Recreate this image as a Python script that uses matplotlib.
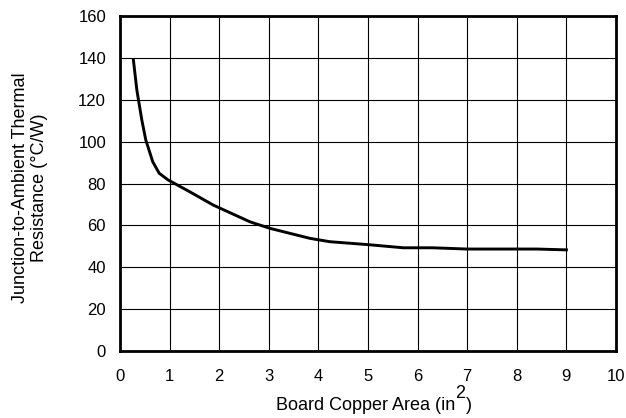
import matplotlib
matplotlib.use("Agg")
import matplotlib.pyplot as plt

plt.rcParams['font.family'] = ['Liberation Sans', 'DejaVu Sans']

area = [0.27, 0.34, 0.44, 0.52, 0.66, 0.79, 0.97, 1.41, 1.88, 2.62, 3.02, 3.83, 4.23, 5.0, 5.71, 6.3, 6.99, 8.4, 9.0]
resistance = [139, 124.6, 110.3, 100.8, 90.4, 84.9, 81.7, 76, 69.7, 61.7, 58.6, 53.8, 52.2, 50.8, 49.3, 49.3, 48.7, 48.7, 48.3]
xticks = list(range(0, 11))
yticks = list(range(0, 161, 20))

W, H = 626, 418
fig = plt.figure(figsize=(6.26, 4.18), dpi=100)
ax = fig.add_axes([120 / W, 67 / H, 496 / W, 335 / H])
ax.plot(area, resistance, color='black', linewidth=2.1, solid_joinstyle='round')
ax.set_xlim(0, 10)
ax.set_ylim(0, 160)
ax.set_xticks(xticks)
ax.set_yticks(yticks)
ax.grid(True, color='black', linewidth=0.8)
ax.tick_params(length=0, labelsize=12, colors='black')
ax.tick_params(axis='x', pad=13)
ax.tick_params(axis='y', pad=10)
for s in ax.spines.values():
    s.set_linewidth(2)

# y label
fig.text(30 / W, (H - 188) / H, 'Junction-to-Ambient Thermal\nResistance (°C/W)',
         rotation=90, ha='center', va='center', fontsize=13, linespacing=1.2,
         multialignment='center')

# x label with raised superscript
fs = 13
main = fig.text(0, 0, 'Board Copper Area (in', fontsize=fs, va='baseline', ha='left')
sup = fig.text(0, 0, '2', fontsize=13, va='baseline', ha='left')
close = fig.text(0, 0, ')', fontsize=fs, va='baseline', ha='left')
fig.canvas.draw()
r = fig.canvas.get_renderer()
w1 = main.get_window_extent(r).width
w2 = sup.get_window_extent(r).width
w3 = close.get_window_extent(r).width
total = w1 + w2 + w3
cx = 374
x0 = cx - total / 2
base = 8
main.set_position((x0 / W, base / H))
sup.set_position(((x0 + w1) / W, (base + 12) / H))
close.set_position(((x0 + w1 + w2) / W, base / H))

fig.savefig('out.png', dpi=100)
